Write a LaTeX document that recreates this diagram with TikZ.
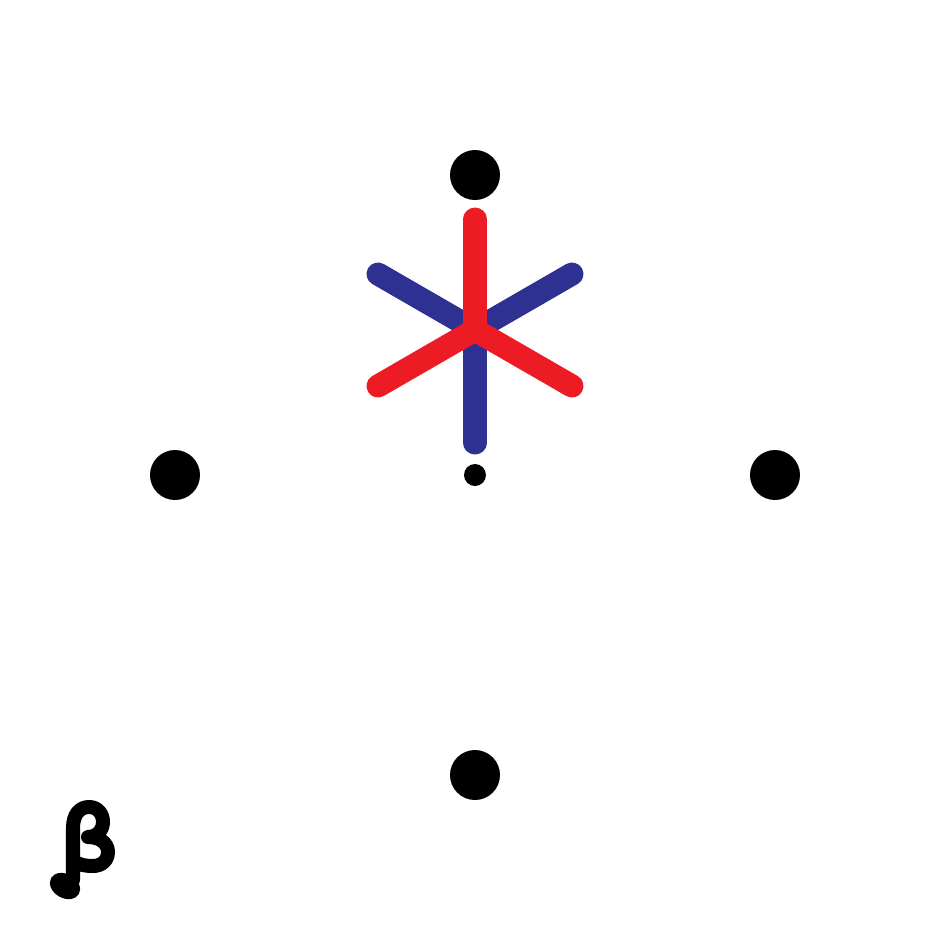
\documentclass[tikz,border=0pt]{standalone}
\definecolor{starred}{HTML}{ED1C24}
\definecolor{starblue}{HTML}{2E3192}
\begin{document}
\begin{tikzpicture}[x=0.01cm,y=-0.01cm,
  bigdot/.style={circle,fill=black,inner sep=0pt,minimum size=50*0.01cm},
  smalldot/.style={circle,fill=black,inner sep=0pt,minimum size=22*0.01cm},
  arm/.style={line width=23*0.2845pt,line cap=round}]
\useasboundingbox (0,0) rectangle (950,950);
\node[bigdot] (top) at (475,175) {};
\node[bigdot] (left) at (175,475) {};
\node[bigdot] (right) at (775,475) {};
\node[bigdot] (bottom) at (475,775) {};
\node[smalldot] (mid) at (475,475) {};
\coordinate (c) at (475,330);
% blue arms
\draw[arm,starblue] (c) -- ++(0,113);
\draw[arm,starblue] (c) -- ++(-97,-56);
\draw[arm,starblue] (c) -- ++(97,-56);
% red arms
\draw[arm,starred] (c) -- ++(0,-111);
\draw[arm,starred] (c) -- ++(-97,56);
\draw[arm,starred] (c) -- ++(97,56);
% beta
\draw[line width=14*0.2845pt,line cap=round,line join=round]
  (73,880) -- (73,828) .. controls (73,814) and (80,807) .. (89,807)
  .. controls (98,807) and (103,814) .. (103,822)
  .. controls (103,831) and (96,837) .. (88,837)
  .. controls (101,837) and (108,844) .. (108,852)
  .. controls (108,861) and (101,866) .. (93,866)
  .. controls (86,866) and (80,865) .. (75,862);
\fill[rotate around={-30:(65,886)}] (65,886) ellipse [x radius=16, y radius=12];
\end{tikzpicture}
\end{document}
